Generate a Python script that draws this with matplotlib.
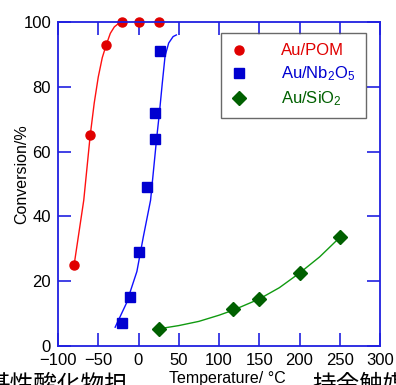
import matplotlib
matplotlib.use('Agg')
import matplotlib.pyplot as plt

plt.rcParams['font.family'] = ['Liberation Sans', 'Noto Sans CJK JP', 'DejaVu Sans']
plt.rcParams['mathtext.fontset'] = 'custom'
plt.rcParams['mathtext.rm'] = 'Liberation Sans'
plt.rcParams['mathtext.it'] = 'Liberation Sans'

# measured points
pom_t = [-80, -60, -40, -20, 0, 25]
pom_conv = [25, 65, 93, 100, 100, 100]
nb_t = [-20, -10, 0, 10, 20, 20, 27]
nb_conv = [7, 15, 29, 49, 64, 72, 91]
si_t = [25, 117, 150, 200, 250]
si_conv = [5.2, 11.5, 14.5, 22.5, 33.5]

# guide curves
pom_fit_t = [-80, -74, -68, -64, -60, -55, -50, -45, -40, -35, -30, -25, -20]
pom_fit_c = [25, 35, 45, 55, 65, 75, 83, 89, 93, 96.5, 98.5, 99.5, 100]
nb_fit_t = [-29, -15, -2, 6, 15, 22.5, 26, 29.5, 33, 37.5, 43, 47]
nb_fit_c = [5.8, 13.2, 23, 33.7, 45, 64, 72, 81, 89.5, 93.5, 95.5, 96]
si_fit_t = [25, 50, 75, 100, 117, 150, 175, 200, 225, 250]
si_fit_c = [5.3, 6.3, 7.6, 9.5, 11, 14.5, 18, 22.5, 27.5, 33.5]

x_ticks = [-100, -50, 0, 50, 100, 150, 200, 250, 300]
y_ticks = [0, 20, 40, 60, 80, 100]

axis_blue = '#2020e0'

fig = plt.figure(figsize=(3.96, 3.85), dpi=100)
ax = fig.add_axes([58 / 396, 1 - 346 / 385, 322 / 396, 324 / 385])

ax.plot(pom_fit_t, pom_fit_c, color='#ff1010', lw=1)
ax.plot(nb_fit_t, nb_fit_c, color='#1010ff', lw=1)
ax.plot(si_fit_t, si_fit_c, color='#109a10', lw=1)

ax.plot(pom_t, pom_conv, 'o', color='#e00000', ms=6.5, ls='none', label='Au/POM', clip_on=False)
ax.plot(nb_t, nb_conv, 's', color='#0000d0', ms=6.5, ls='none', label='Au/Nb$_2$O$_5$')
ax.plot(si_t, si_conv, 'D', color='#006000', ms=7, ls='none', label='Au/SiO$_2$')

ax.set_xlim(-100, 300)
ax.set_ylim(0, 100)
ax.set_xticks(x_ticks)
ax.set_yticks(y_ticks)
ax.tick_params(direction='in', length=9.5, width=1.2, color=axis_blue,
               labelsize=12, top=True, right=True, pad=5)
for s in ax.spines.values():
    s.set_color(axis_blue)
    s.set_linewidth(1.3)

ax.set_ylabel('Conversion/%', fontsize=11.5)
ax.yaxis.set_label_coords(-0.09, 0.53)
ax.set_xlabel('Temperature/ \u00b0C', fontsize=11.5)
ax.xaxis.set_label_coords(0.525, -0.078)

leg = ax.legend(loc='upper right', bbox_to_anchor=(0.955, 0.965), fontsize=12,
                frameon=True, fancybox=False, handletextpad=2.0, borderpad=0.6,
                labelspacing=0.38, handlelength=1.0, borderaxespad=0)
leg.get_frame().set_edgecolor('#444444')
leg.get_frame().set_linewidth(1.0)
for txt, c in zip(leg.get_texts(), ['#e00000', '#0000d0', '#006000']):
    txt.set_color(c)

# caption text of the page behind the chart, cut off by the image edges
fig.text(128 / 396, 1 - 375 / 385, '基性酸化物担', fontsize=17, ha='right', va='top')
fig.text(312 / 396, 1 - 375 / 385, '持金触媒', fontsize=17, ha='left', va='top')

fig.savefig('out.png', dpi=100)
